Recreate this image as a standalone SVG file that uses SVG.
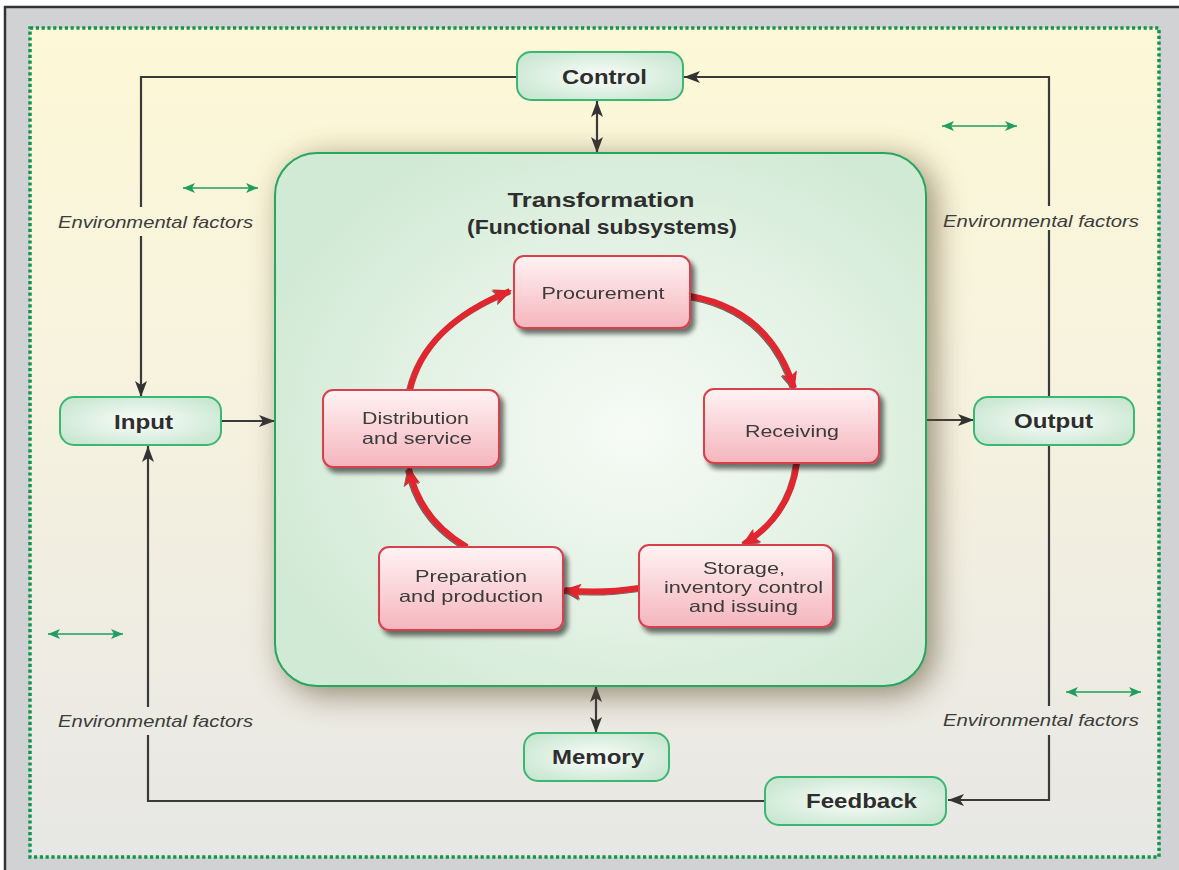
<svg xmlns="http://www.w3.org/2000/svg" width="1179" height="870" viewBox="0 0 1179 870">
  <defs>
    <style>
      .lbl { font-family: "Liberation Sans", Arial, sans-serif; fill: #2e2e2e; }
      .bold { font-weight: bold; font-size: 20px; }
      .red-txt { font-size: 16.5px; fill: #3a3a3a; }
      .env { font-style: italic; font-size: 17px; fill: #3c3c3c; }
      .wire { fill: none; stroke: #3a3a3a; stroke-width: 2.2; }
      .env-arrow { fill: none; stroke: #1f9e5e; stroke-width: 1.6; }
      .cycle { fill: none; stroke: #e0252e; stroke-width: 6; }
      .gnode { fill: url(#gNodeFill); stroke: #3bb673; stroke-width: 2; }
      .rnode { fill: url(#rNodeFill); stroke: #d8404c; stroke-width: 2; }
    </style>
    <linearGradient id="bgFill" x1="0" y1="0" x2="0" y2="1">
      <stop offset="0" stop-color="#fdf8d6"/>
      <stop offset="0.45" stop-color="#f6f2df"/>
      <stop offset="1" stop-color="#e7e7e5"/>
    </linearGradient>
    <radialGradient id="transFill" cx="0.55" cy="0.52" r="0.6">
      <stop offset="0" stop-color="#f7fbf6"/>
      <stop offset="0.6" stop-color="#e2f1e3"/>
      <stop offset="1" stop-color="#d1ead5"/>
    </radialGradient>
    <radialGradient id="gNodeFill" cx="0.5" cy="0.5" r="0.6">
      <stop offset="0" stop-color="#fbfdfb"/>
      <stop offset="1" stop-color="#c9e7d1"/>
    </radialGradient>
    <linearGradient id="rNodeFill" x1="0" y1="0" x2="0" y2="1">
      <stop offset="0" stop-color="#fff3f4"/>
      <stop offset="1" stop-color="#f5b5bd"/>
    </linearGradient>
    <filter id="bigShadow" x="-20%" y="-20%" width="140%" height="140%">
      <feGaussianBlur stdDeviation="16"/>
    </filter>
    <filter id="boxShadow" x="-20%" y="-20%" width="150%" height="160%">
      <feGaussianBlur in="SourceAlpha" stdDeviation="2.5"/>
      <feOffset dx="4" dy="5" result="b"/>
      <feComponentTransfer><feFuncA type="linear" slope="0.55"/></feComponentTransfer>
      <feMerge><feMergeNode/><feMergeNode in="SourceGraphic"/></feMerge>
    </filter>
    <filter id="arcShadow" x="-20%" y="-20%" width="140%" height="140%">
      <feOffset in="SourceAlpha" dx="-1.2" dy="1.2"/>
      <feComponentTransfer><feFuncA type="linear" slope="0.6"/></feComponentTransfer>
      <feMerge><feMergeNode/><feMergeNode in="SourceGraphic"/></feMerge>
    </filter>
    <marker id="darkHead" markerUnits="userSpaceOnUse" markerWidth="16" markerHeight="12" refX="16" refY="6" orient="auto-start-reverse">
      <path d="M0,0 L16,6 L0,12 L4,6 Z" fill="#333"/>
    </marker>
    <marker id="greenHead" markerUnits="userSpaceOnUse" markerWidth="12" markerHeight="10" refX="12" refY="5" orient="auto-start-reverse">
      <path d="M0,0 L12,5 L0,10 L3,5 Z" fill="#1f9e5e"/>
    </marker>
    <marker id="redHead" markerUnits="userSpaceOnUse" markerWidth="18" markerHeight="16" refX="16" refY="8" orient="auto">
      <path d="M0,0 L18,8 L0,16 L4,8 Z" fill="#e0252e"/>
    </marker>
  </defs>

  <!-- frame and environment area -->
  <rect x="0" y="0" width="1179" height="870" fill="#ffffff"/>
  <rect x="5" y="7" width="1200" height="900" fill="#d1d2d4" stroke="#333" stroke-width="2.5"/>
  <rect x="30" y="28" width="1129" height="829" fill="url(#bgFill)"/>
  <rect x="30" y="28" width="1129" height="829" fill="none" stroke="#12944f" stroke-width="3.5" stroke-dasharray="3.2 2.6"/>

  <!-- connectors -->
  <g id="connectors">
    <!-- control loop: right side into Control, left side down to Input -->
    <path class="wire" d="M517,77 H141 V207"/>
    <path class="wire" d="M141,236 V397" marker-end="url(#darkHead)"/>
    <path class="wire" d="M1049,206 V77 H684" marker-end="url(#darkHead)"/>
    <path class="wire" d="M1049,230 V706"/>
    <path class="wire" d="M1049,735 V800 H948" marker-end="url(#darkHead)"/>
    <!-- feedback loop back to Input -->
    <path class="wire" d="M765,801 H148 V735"/>
    <path class="wire" d="M148,707 V446" marker-end="url(#darkHead)"/>
    <!-- input / output -->
    <path class="wire" d="M222,421 H275" marker-end="url(#darkHead)"/>
    <path class="wire" d="M926,420 H974" marker-end="url(#darkHead)"/>
    <!-- control and memory exchanges -->
    <path class="wire" d="M597,101 V153" marker-start="url(#darkHead)" marker-end="url(#darkHead)"/>
    <path class="wire" d="M596,686 V733" marker-start="url(#darkHead)" marker-end="url(#darkHead)"/>
    <!-- environmental exchange arrows -->
    <path class="env-arrow" d="M183,188 H258" marker-start="url(#greenHead)" marker-end="url(#greenHead)"/>
    <path class="env-arrow" d="M942,126 H1017" marker-start="url(#greenHead)" marker-end="url(#greenHead)"/>
    <path class="env-arrow" d="M48,634 H123" marker-start="url(#greenHead)" marker-end="url(#greenHead)"/>
    <path class="env-arrow" d="M1066,692 H1141" marker-start="url(#greenHead)" marker-end="url(#greenHead)"/>
  </g>

  <!-- environmental factor labels -->
  <g id="env-labels" class="lbl env">
    <text x="155.5" y="228" text-anchor="middle" textLength="195" lengthAdjust="spacingAndGlyphs">Environmental factors</text>
    <text x="1041" y="227" text-anchor="middle" textLength="196" lengthAdjust="spacingAndGlyphs">Environmental factors</text>
    <text x="155.5" y="727" text-anchor="middle" textLength="195" lengthAdjust="spacingAndGlyphs">Environmental factors</text>
    <text x="1041" y="726" text-anchor="middle" textLength="196" lengthAdjust="spacingAndGlyphs">Environmental factors</text>
  </g>

  <!-- transformation: functional subsystems -->
  <g id="transformation">
    <rect x="283" y="159" width="651" height="535" rx="42" fill="#5e4f33" opacity="0.65" filter="url(#bigShadow)"/>
    <rect x="275" y="153" width="651" height="533" rx="42" fill="url(#transFill)" stroke="#27a65f" stroke-width="2"/>
    <text class="lbl bold" x="601" y="207" text-anchor="middle" textLength="187" lengthAdjust="spacingAndGlyphs" fill="#1e1e1e">Transformation</text>
    <text class="lbl bold" x="602" y="234" text-anchor="middle" textLength="270" lengthAdjust="spacingAndGlyphs" fill="#1e1e1e">(Functional subsystems)</text>
  </g>

  <!-- subsystem cycle -->
  <g id="cycle" filter="url(#arcShadow)">
    <path class="cycle" d="M410,390 Q425,325 510,291" marker-end="url(#redHead)"/>
    <path class="cycle" d="M690,296 Q770,310 794,388" marker-end="url(#redHead)"/>
    <path class="cycle" d="M797,463 Q790,515 744,544" marker-end="url(#redHead)"/>
    <path class="cycle" d="M639,588 Q600,594 565,590" marker-end="url(#redHead)"/>
    <path class="cycle" d="M467,547 Q420,520 409,469" marker-end="url(#redHead)"/>
  </g>

  <g id="procurement" filter="url(#boxShadow)">
    <rect class="rnode" x="514" y="256" width="176" height="72" rx="10"/>
    <text class="lbl red-txt" x="603" y="299" text-anchor="middle" textLength="123" lengthAdjust="spacingAndGlyphs">Procurement</text>
  </g>
  <g id="receiving" filter="url(#boxShadow)">
    <rect class="rnode" x="704" y="389" width="175" height="74" rx="10"/>
    <text class="lbl red-txt" x="792" y="437" text-anchor="middle" textLength="94" lengthAdjust="spacingAndGlyphs">Receiving</text>
  </g>
  <g id="storage" filter="url(#boxShadow)">
    <rect class="rnode" x="639" y="545" width="194" height="82" rx="10"/>
    <text class="lbl red-txt" x="744" y="574" text-anchor="middle" textLength="82" lengthAdjust="spacingAndGlyphs">Storage,</text>
    <text class="lbl red-txt" x="743.5" y="593" text-anchor="middle" textLength="159" lengthAdjust="spacingAndGlyphs">inventory control</text>
    <text class="lbl red-txt" x="743.5" y="612" text-anchor="middle" textLength="109" lengthAdjust="spacingAndGlyphs">and issuing</text>
  </g>
  <g id="preparation" filter="url(#boxShadow)">
    <rect class="rnode" x="379" y="547" width="184" height="83" rx="10"/>
    <text class="lbl red-txt" x="471" y="582" text-anchor="middle" textLength="112" lengthAdjust="spacingAndGlyphs">Preparation</text>
    <text class="lbl red-txt" x="471" y="602" text-anchor="middle" textLength="144" lengthAdjust="spacingAndGlyphs">and production</text>
  </g>
  <g id="distribution" filter="url(#boxShadow)">
    <rect class="rnode" x="323" y="390" width="176" height="77" rx="10"/>
    <text class="lbl red-txt" x="415.5" y="424" text-anchor="middle" textLength="107" lengthAdjust="spacingAndGlyphs">Distribution</text>
    <text class="lbl red-txt" x="417" y="444" text-anchor="middle" textLength="110" lengthAdjust="spacingAndGlyphs">and service</text>
  </g>

  <!-- system nodes -->
  <g id="control">
    <rect class="gnode" x="517" y="52" width="166" height="48" rx="14"/>
    <text class="lbl bold" x="604.5" y="84" text-anchor="middle" textLength="85" lengthAdjust="spacingAndGlyphs">Control</text>
  </g>
  <g id="input">
    <rect class="gnode" x="60" y="397" width="161" height="48" rx="14"/>
    <text class="lbl bold" x="143.5" y="429" text-anchor="middle" textLength="59" lengthAdjust="spacingAndGlyphs">Input</text>
  </g>
  <g id="output">
    <rect class="gnode" x="974" y="397" width="160" height="48" rx="14"/>
    <text class="lbl bold" x="1053.5" y="428" text-anchor="middle" textLength="79" lengthAdjust="spacingAndGlyphs">Output</text>
  </g>
  <g id="memory">
    <rect class="gnode" x="524" y="733" width="145" height="48" rx="14"/>
    <text class="lbl bold" x="598" y="764" text-anchor="middle" textLength="92" lengthAdjust="spacingAndGlyphs">Memory</text>
  </g>
  <g id="feedback">
    <rect class="gnode" x="765" y="777" width="181" height="48" rx="14"/>
    <text class="lbl bold" x="861.5" y="808" text-anchor="middle" textLength="111" lengthAdjust="spacingAndGlyphs">Feedback</text>
  </g>
</svg>
